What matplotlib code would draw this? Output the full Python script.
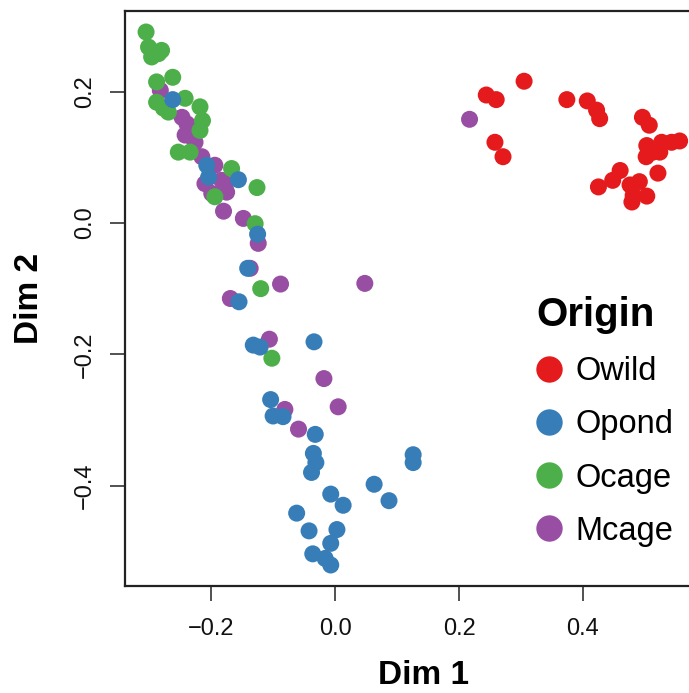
import matplotlib.pyplot as plt
from matplotlib.lines import Line2D

plt.rcParams['font.family'] = ['Liberation Sans', 'DejaVu Sans']

# MDS coordinates per origin group
owild_x = [0.305, 0.244, 0.260, 0.258, 0.271, 0.374, 0.407, 0.422, 0.427, 0.496,
           0.507, 0.503, 0.527, 0.543, 0.556, 0.513, 0.502, 0.524, 0.521, 0.460,
           0.448, 0.425, 0.476, 0.491, 0.481, 0.503, 0.479]
owild_y = [0.216, 0.195, 0.188, 0.123, 0.101, 0.188, 0.186, 0.172, 0.159, 0.161,
           0.149, 0.118, 0.123, 0.123, 0.125, 0.108, 0.101, 0.108, 0.076, 0.080,
           0.065, 0.055, 0.058, 0.063, 0.042, 0.041, 0.032]

opond_x = [-0.262, -0.207, -0.204, -0.156, -0.125, -0.141, -0.155, -0.132, -0.121, -0.034,
           -0.104, -0.100, -0.084, -0.032, -0.035, -0.031, -0.038, 0.126, 0.126, 0.063,
           0.087, -0.007, 0.013, -0.062, -0.042, 0.003, -0.007, -0.036, -0.016, -0.007]
opond_y = [0.188, 0.088, 0.070, 0.066, -0.017, -0.069, -0.120, -0.186, -0.189, -0.181,
           -0.269, -0.294, -0.295, -0.322, -0.351, -0.365, -0.380, -0.353, -0.365, -0.398,
           -0.423, -0.413, -0.430, -0.442, -0.469, -0.467, -0.488, -0.504, -0.511, -0.521]

ocage_x = [-0.305, -0.301, -0.280, -0.296, -0.285, -0.262, -0.288, -0.242, -0.288, -0.269,
           -0.277, -0.218, -0.214, -0.218, -0.253, -0.234, -0.167, -0.126, -0.194, -0.129,
           -0.102, -0.120]
ocage_y = [0.291, 0.268, 0.263, 0.253, 0.258, 0.222, 0.215, 0.190, 0.184, 0.169,
           0.175, 0.177, 0.156, 0.141, 0.108, 0.108, 0.083, 0.054, 0.040, -0.001,
           -0.206, -0.100]

mcage_x = [-0.282, -0.247, -0.239, -0.242, -0.226, -0.215, -0.194, -0.210, -0.183, -0.177,
           -0.199, -0.177, -0.175, -0.180, -0.148, -0.124, -0.137, -0.088, -0.169, -0.106,
           -0.018, 0.005, -0.081, -0.059, 0.217, 0.048]
mcage_y = [0.202, 0.161, 0.151, 0.134, 0.123, 0.101, 0.088, 0.060, 0.065, 0.050,
           0.045, 0.060, 0.047, 0.018, 0.007, -0.031, -0.069, -0.093, -0.115, -0.177,
           -0.237, -0.280, -0.284, -0.314, 0.158, -0.092]

groups = ['Owild', 'Opond', 'Ocage', 'Mcage']
colors = {'Owild': '#E41A1C', 'Opond': '#377EB8', 'Ocage': '#4DAF4A', 'Mcage': '#984EA3'}

fig = plt.figure(figsize=(6.89, 6.93), dpi=100)
ax = fig.add_axes([125 / 689, 107 / 693, 598 / 689, 575 / 693])

# draw order so that overlaps look like the original
ax.scatter(mcage_x, mcage_y, s=150, color=colors['Mcage'], edgecolors='none')
ax.scatter(ocage_x, ocage_y, s=150, color=colors['Ocage'], edgecolors='none')
ax.scatter(opond_x, opond_y, s=150, color=colors['Opond'], edgecolors='none')
ax.scatter(owild_x, owild_y, s=150, color=colors['Owild'], edgecolors='none')

ax.set_xlim(-0.339, 0.626)
ax.set_ylim(-0.553, 0.323)

ax.set_xticks([-0.2, 0.0, 0.2, 0.4])
ax.set_xticklabels(['\u22120.2', '0.0', '0.2', '0.4'])
ax.set_yticks([-0.4, -0.2, 0.0, 0.2])
ax.set_yticklabels(['\u22120.4', '\u22120.2', '0.0', '0.2'], rotation=90, va='center')
ax.tick_params(length=11, width=1.2, labelsize=17, color='#333333', labelcolor='#111111')
ax.tick_params(axis='x', pad=12)
ax.tick_params(axis='y', pad=10)
for sp in ax.spines.values():
    sp.set_linewidth(1.6)
    sp.set_color('#222222')

ax.set_xlabel('Dim 1', fontsize=24, fontweight='bold', va='center')
ax.xaxis.set_label_coords(0.5, (586 - 676) / 575)
ax.set_ylabel('Dim 2', fontsize=24, fontweight='bold', va='center')
ax.yaxis.set_label_coords((30 - 125) / 598, 0.5)

handles = [Line2D([], [], marker='o', linestyle='none', markersize=19,
                  markerfacecolor=colors[g], markeredgecolor='none') for g in groups]
leg = ax.legend(handles, groups, title='Origin', loc='upper left',
                bbox_to_anchor=(536 / 689, (693 - 296) / 693), bbox_transform=fig.transFigure,
                frameon=False, fontsize=23.5, handletextpad=0.4, labelspacing=0.68,
                borderaxespad=0, borderpad=0, handlelength=0.8, alignment='left')
leg.get_title().set_fontsize(29)
leg.get_title().set_fontweight('bold')

fig.savefig('out.png', dpi=100)
